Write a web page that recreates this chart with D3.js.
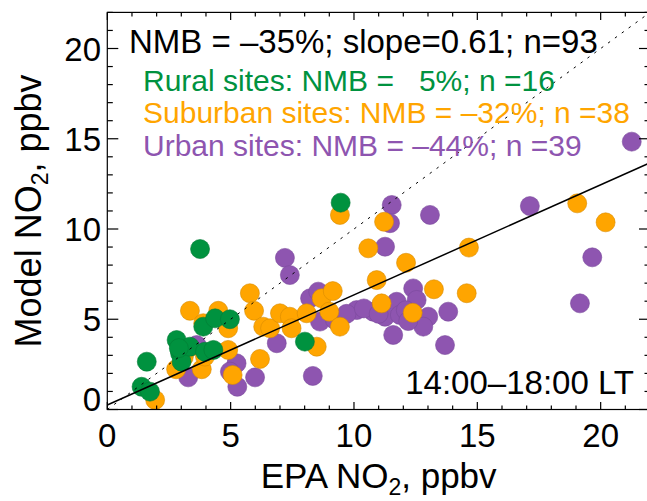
<!DOCTYPE html>
<html><head><meta charset="utf-8">
<script src="https://cdn.jsdelivr.net/npm/d3@7"></script>
<style>body{margin:0;background:#fff}svg{display:block}text{font-family:"Liberation Sans",Arial,Helvetica,sans-serif}</style>
</head><body><svg id="c" width="647" height="501"></svg>
<script>
// EPA observed (x) vs Model (y) NO2, ppbv
const ruralX = [3.76,1.60,1.39,1.73,2.81,2.95,3.01,3.35,3.89,4.37,4.97,3.96,4.30,9.46,8.01,2.90];
const ruralY = [8.89,2.65,1.26,0.99,3.85,3.11,2.65,3.48,4.59,5.05,5.00,3.20,3.30,11.46,3.76,3.40];
const suburbanX = [1.94,2.79,3.35,4.50,3.89,4.90,5.78,5.95,6.32,6.60,7.00,6.19,4.90,3.83,5.08,3.96,7.40,7.47,8.08,8.49,8.69,9.14,9.00,9.43,9.43,10.58,11.22,10.92,11.12,12.11,12.38,13.24,14.66,14.57,19.05,20.20,3.10,3.30];
const suburbanY = [0.53,2.23,5.47,5.47,4.78,4.50,6.44,5.47,4.59,4.50,5.33,2.80,3.30,2.23,1.91,2.93,5.14,4.50,5.33,3.48,6.16,6.56,5.42,4.59,10.78,8.93,10.40,7.17,5.88,8.13,5.36,6.66,8.97,6.44,11.42,10.37,2.90,3.40];
const urbanX = [3.28,5.24,4.97,5.27,5.99,6.87,7.20,3.62,7.40,8.33,8.22,8.55,8.62,9.23,10.11,10.78,11.26,11.73,11.86,12.40,12.54,13.01,12.81,11.59,13.69,13.82,11.26,11.53,11.46,13.08,21.26,17.13,19.66,19.16,9.70,10.40,12.10,11.00,12.20];
const urbanY = [1.78,2.56,2.10,1.26,1.78,3.67,8.40,3.57,7.45,1.86,6.16,6.53,4.87,4.96,5.51,5.42,5.14,5.97,5.24,6.71,6.07,5.14,4.59,4.13,3.57,5.42,9.02,11.33,10.32,10.78,14.84,11.27,8.43,5.88,5.30,5.60,5.50,5.30,4.90];
const xTicks = [0,5,10,15,20];
const yTicks = [0,5,10,15,20];
const fit = {slope:0.61, intercept:0.25};
const summary = "NMB = \u201335%; slope=0.61; n=93";
const legendLines = ["Rural sites: NMB =   5%; n =16","Suburban sites: NMB = \u201332%; n =38","Urban sites: NMB = \u201344%; n =39"];
const timeLabel = "14:00\u201318:00 LT";
const colors = {rural:"#00923F", suburban:"#FFA500", urban:"#8E55B0"};

const svg = d3.select("#c");
const x = d3.scaleLinear().domain([0,22]).range([107.3,650]);
const y = d3.scaleLinear().domain([0,22]).range([409.5,12.4]);
const L=x(0),R=x(22),T=y(22),B=y(0);

// points
function pts(xs,ys,col,stroke){
  svg.append("g").selectAll("circle").data(xs.map((v,i)=>[v,ys[i]])).join("circle")
   .attr("cx",d=>x(d[0])).attr("cy",d=>y(d[1])).attr("r",9.5)
   .attr("fill",col).attr("stroke",stroke).attr("stroke-width",0.6);
}
pts(urbanX,urbanY,colors.urban,"#7a4a9c");
pts(suburbanX,suburbanY,colors.suburban,"#d98c00");
pts(ruralX,ruralY,colors.rural,"#007a34");

// 1:1 dotted line and fit
svg.append("line").attr("x1",x(0)).attr("y1",y(0)).attr("x2",x(22)).attr("y2",y(22))
  .attr("stroke","#000").attr("stroke-width",1).attr("stroke-dasharray","2.5,6");
svg.append("line").attr("x1",x(0)).attr("y1",y(fit.intercept)).attr("x2",x(22)).attr("y2",y(fit.intercept+fit.slope*22))
  .attr("stroke","#000").attr("stroke-width",1.5);

// frame & ticks
const ax = svg.append("g").attr("stroke","#000").attr("stroke-width",1.2);
ax.append("rect").attr("x",L).attr("y",T).attr("width",R-L).attr("height",B-T).attr("fill","none");
for(let v=0; v<=22; v++){
  const maj = v%5===0, lx = maj?7.5:4, ly = maj?11:5.5;
  ax.append("line").attr("x1",x(v)).attr("x2",x(v)).attr("y1",B).attr("y2",B-lx);
  ax.append("line").attr("x1",x(v)).attr("x2",x(v)).attr("y1",T).attr("y2",T+lx);
  ax.append("line").attr("y1",y(v)).attr("y2",y(v)).attr("x1",L).attr("x2",L+ly);
  ax.append("line").attr("y1",y(v)).attr("y2",y(v)).attr("x1",R).attr("x2",R-ly);
}
svg.append("g").selectAll("text").data(xTicks).join("text")
  .attr("x",d=>x(d)).attr("y",447).attr("text-anchor","middle").attr("font-size",33).text(d=>d);
svg.append("g").selectAll("text").data(yTicks).join("text")
  .attr("x",101).attr("y",d=>y(d)+(d===0?-11:0)+12).attr("text-anchor","end").attr("font-size",33).text(d=>d);

// axis titles
const xt = svg.append("text").attr("x",(L+R)/2).attr("y",488).attr("text-anchor","middle").attr("font-size",35);
xt.append("tspan").text("EPA NO");
xt.append("tspan").attr("font-size",23).attr("dy",7).text("2");
xt.append("tspan").attr("dy",-7).text(", ppbv");
const yt = svg.append("text").attr("transform",`translate(41,${(T+B)/2}) rotate(-90)`).attr("text-anchor","middle").attr("font-size",36);
yt.append("tspan").text("Model NO");
yt.append("tspan").attr("font-size",23).attr("dy",7).text("2");
yt.append("tspan").attr("dy",-7).text(", ppbv");

// annotations
svg.append("text").attr("x",129).attr("y",53).attr("font-size",33).text(summary);
const lc=[colors.rural,colors.suburban,colors.urban];
svg.append("g").selectAll("text").data(legendLines).join("text")
  .attr("x",143).attr("y",(d,i)=>91+i*32.3).attr("font-size",30).attr("fill",(d,i)=>lc[i])
  .style("white-space","pre").text(d=>d);
svg.append("text").attr("x",634).attr("y",394).attr("text-anchor","end").attr("font-size",33).text(timeLabel);
</script></body></html>
